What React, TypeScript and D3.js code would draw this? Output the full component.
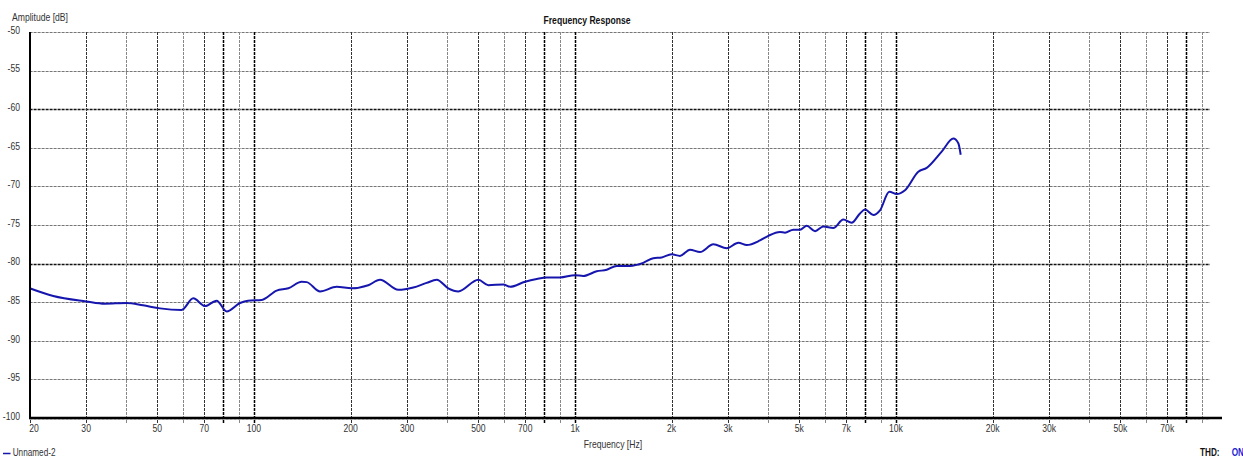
import React from "react";
import { scaleLog, scaleLinear, line, curveMonotoneX } from "d3";

// measured curve (Hz, dB)
const freqs = [
  20, 23.7, 30, 34.3, 40.1, 45.1, 51, 59.5, 64.7, 70.4, 76.5, 82.2, 90.5, 95.8,
  105.7, 117.7, 128, 140.8, 146, 160.6, 181, 201.6, 227, 247, 281.6, 313.6, 345,
  371, 403, 433, 500, 537, 598, 628, 699, 760, 816, 898, 1000, 1061, 1169, 1256,
  1349, 1484, 1632, 1754, 1863, 2001, 2124, 2282, 2452, 2698, 2970, 3228, 3428,
  3771, 4002, 4352, 4511, 4788, 5023, 5272, 5597, 5938, 6378, 6853, 7279, 7726,
  8009, 8500, 8918, 9534, 10052, 10670, 11738, 12467, 13880, 15090, 15640, 15910,
];
const amps = [
  -83.2, -84.2, -84.9, -85.2, -85.1, -85.4, -85.8, -86.0, -84.5, -85.5, -84.8,
  -86.2, -85.1, -84.8, -84.7, -83.5, -83.2, -82.35, -82.4, -83.6, -83.0, -83.2,
  -82.8, -82.1, -83.4, -83.1, -82.5, -82.1, -83.2, -83.6, -82.1, -82.8, -82.7,
  -83.0, -82.35, -82.0, -81.8, -81.8, -81.5, -81.6, -81.0, -80.8, -80.3, -80.3,
  -79.9, -79.3, -79.2, -78.8, -79.0, -78.2, -78.5, -77.5, -78.0, -77.3, -77.6,
  -77.0, -76.4, -75.9, -76.0, -75.6, -75.6, -75.1, -75.8, -75.2, -75.4, -74.3,
  -74.7, -73.5, -73.0, -73.7, -73.1, -70.7, -71.0, -70.5, -68.1, -67.6, -65.5,
  -63.8, -64.4, -65.9,
];

const yTicks = [-50, -55, -60, -65, -70, -75, -80, -85, -90, -95, -100];
const xGrid = [
  20, 30, 40, 50, 60, 70, 80, 90, 100, 200, 300, 400, 500, 600, 700, 800, 900,
  1000, 2000, 3000, 4000, 5000, 6000, 7000, 8000, 9000, 10000, 20000, 30000,
  40000, 50000, 60000, 70000, 80000, 90000,
];
const xLabels = [
  [20, "20"], [30, "30"], [50, "50"], [70, "70"], [100, "100"], [200, "200"],
  [300, "300"], [500, "500"], [700, "700"], [1000, "1k"], [2000, "2k"],
  [3000, "3k"], [5000, "5k"], [7000, "7k"], [10000, "10k"], [20000, "20k"],
  [30000, "30k"], [50000, "50k"], [70000, "70k"],
] as [number, string][];

const W = 1243;
const H = 457;
const left = 29.6;
const top = 32;
const bottom = 418;
const gridRight = 1210;
const axisRight = 1222;

const FONT = "'Liberation Sans', Arial, sans-serif";
const SX = 0.82; // the original UI font is narrower than Arial

// narrow text helper: positions in page pixels, glyphs squeezed horizontally
function T({ x, y, anchor = "start", size = 10.5, weight = "normal", fill = "#333", middle = false, children }: any) {
  return (
    <text
      transform={`translate(${x},${y}) scale(${SX},1)`}
      textAnchor={anchor}
      dominantBaseline={middle ? "middle" : "auto"}
      fontFamily={FONT}
      fontSize={size}
      fontWeight={weight}
      fill={fill}
    >
      {children}
    </text>
  );
}

export default function App() {
  const x = scaleLog().domain([20, 100000]).range([left, left + 321 * Math.log10(5000)]);
  const y = scaleLinear().domain([-100, -50]).range([bottom, top]);

  const pts = freqs.map((f, i) => [f, amps[i]] as [number, number]);
  const path = line<[number, number]>()
    .x((d) => x(d[0]))
    .y((d) => y(d[1]))
    .curve(curveMonotoneX)(pts);

  const labelled = new Set(xLabels.map((d) => d[0]));

  return (
    <div style={{ position: "absolute", left: 0, top: 0 }}>
      <svg width={W} height={H} style={{ display: "block", background: "#fff" }}>
        {/* horizontal grid */}
        {yTicks.map((t) => {
          const major = t % 20 === 0;
          return (
            <line
              key={"h" + t}
              x1={left}
              x2={gridRight}
              y1={Math.round(y(t)) + 0.5}
              y2={Math.round(y(t)) + 0.5}
              stroke={major ? "#111" : "#777"}
              strokeWidth={major ? 1.5 : 1}
              strokeDasharray="3,1"
            />
          );
        })}
        {/* vertical grid + small ticks under the axis */}
        {xGrid.map((f) => {
          const decade = Math.abs(Math.log10(f) - Math.round(Math.log10(f))) < 1e-9;
          const eighty = String(f)[0] === "8";
          const lab = labelled.has(f);
          const color = decade || eighty ? "#000" : lab ? "#333" : "#888";
          return (
            <line
              key={"v" + f}
              x1={Math.round(x(f)) + 0.5}
              x2={Math.round(x(f)) + 0.5}
              y1={top}
              y2={424}
              stroke={color}
              strokeWidth={decade || eighty ? 1.5 : 1}
              strokeDasharray="3,1"
            />
          );
        })}

        {/* frequency response curve */}
        <path d={path || ""} fill="none" stroke="#1616ae" strokeWidth={2} strokeLinejoin="round" />

        {/* axes */}
        <line x1={30} x2={30} y1={top} y2={bottom + 1} stroke="#000" strokeWidth={2} />
        <line x1={29} x2={axisRight} y1={bottom} y2={bottom} stroke="#000" strokeWidth={2.5} />

        {/* y tick labels */}
        {yTicks.map((t) => (
          <T key={"yl" + t} x={20} y={y(t) - 1} anchor="end" middle>
            {t}
          </T>
        ))}

        {/* x tick labels */}
        {xLabels.map(([f, s]) => (
          <T key={"xl" + f} x={f === 20 ? x(f) + 4.5 : x(f)} y={432} anchor="middle">
            {s}
          </T>
        ))}

        <T x={12} y={20.5}>Amplitude [dB]</T>
        <T x={587} y={24} anchor="middle" weight="bold" fill="#111">Frequency Response</T>
        <T x={613} y={447.5} anchor="middle">Frequency [Hz]</T>

        {/* legend */}
        <line x1={3} x2={10.5} y1={453.5} y2={453.5} stroke="#1616ae" strokeWidth={1.5} />
        <T x={12.7} y={456} size={10}>Unnamed-2</T>
        <T x={1200} y={456} size={10} weight="bold" fill="#111">THD:</T>
        <T x={1231.7} y={456} size={10} weight="bold" fill="#1a1ad0">ON</T>
      </svg>
    </div>
  );
}
